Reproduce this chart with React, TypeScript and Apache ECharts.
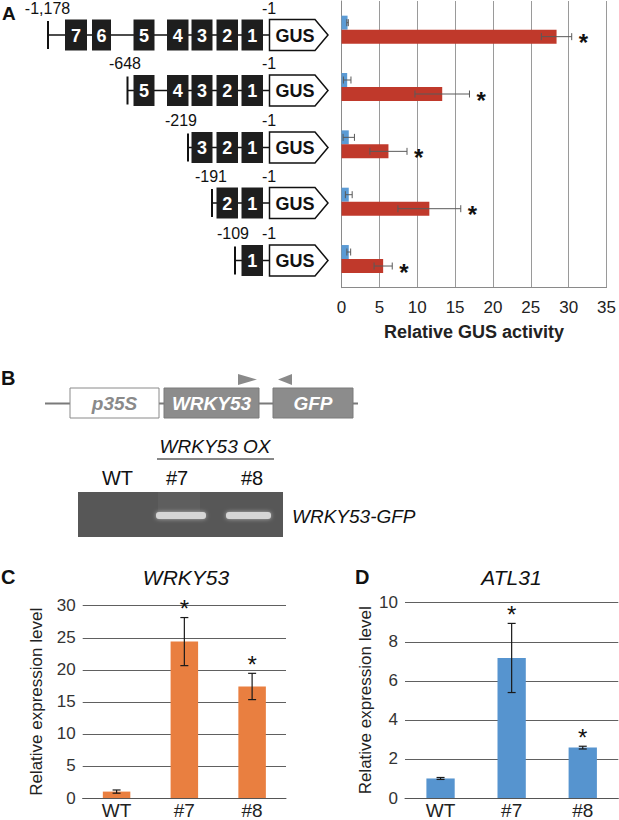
import React, { useEffect, useRef } from "react";
import * as echarts from "echarts";

const FONT = "'Liberation Sans', Arial, Helvetica, sans-serif";

// ---------- Panel A data ----------
const constructStarts = ["-1,178", "-648", "-219", "-191", "-109"];
const constructBoxes = [
  [7, 6, 5, 4, 3, 2, 1],
  [5, 4, 3, 2, 1],
  [3, 2, 1],
  [2, 1],
  [1],
];
const constructCats = ["c1178", "c648", "c219", "c191", "c109"];
const gusCtrl = [0.8, 0.75, 0.96, 0.96, 0.96];
const gusCtrlErr = [0.1, 0.5, 0.75, 0.45, 0.25];
const gusTreat = [28.4, 13.3, 6.2, 11.6, 5.5];
const gusTreatErr = [2.0, 3.6, 2.45, 4.15, 1.2];
const gusSig = [true, true, true, true, true];

// ---------- Panel C / D data ----------
const lines = ["WT", "#7", "#8"];
const wrkyVals = [1.0, 24.4, 17.4];
const wrkyErr = [0.25, 3.75, 2.05];
const wrkySig = [false, true, true];
const atlVals = [1.0, 7.17, 2.58];
const atlErr = [0.05, 1.77, 0.07];
const atlSig = [false, true, true];

// ---------- layout (positions only) ----------
const rowY = [35, 90.5, 147.5, 203, 260.5];
const startX = [48, 127.5, 188, 212, 235];
const labelX = [47.5, 125, 181, 211, 233];
const boxX: Record<number, number> = { 7: 65, 6: 92, 5: 133.5, 4: 167, 3: 191.5, 2: 216.5, 1: 241.5 };
const boxW: Record<number, number> = { 7: 22, 6: 19, 5: 21, 4: 21.5, 3: 21, 2: 21.5, 1: 21.5 };

function txt(text: string, x: number, y: number, font: string, fill = "#111", align = "center", valign = "middle") {
  return {
    type: "text",
    silent: true,
    style: {
      text, x, y, font, fill,
      align, verticalAlign: valign,
      textAlign: align, textVerticalAlign: valign,
    },
  };
}

function buildGraphics() {
  const g: any[] = [];
  // panel letters
  g.push(txt("A", 2, 13, `bold 19px ${FONT}`, "#111", "left"));
  g.push(txt("B", 1, 378, `bold 20px ${FONT}`, "#111", "left"));
  g.push(txt("C", 1, 577, `bold 20px ${FONT}`, "#111", "left"));
  g.push(txt("D", 355, 577, `bold 20px ${FONT}`, "#111", "left"));

  // Panel A constructs
  constructStarts.forEach((lab, i) => {
    const cy = rowY[i];
    g.push({ type: "line", shape: { x1: startX[i], y1: cy, x2: 270, y2: cy }, style: { stroke: "#111", lineWidth: 1.5 } });
    g.push({ type: "line", shape: { x1: startX[i], y1: cy - 14, x2: startX[i], y2: cy + 14 }, style: { stroke: "#111", lineWidth: 2 } });
    constructBoxes[i].forEach((b) => {
      g.push({ type: "rect", shape: { x: boxX[b], y: cy - 15.5, width: boxW[b], height: 31 }, style: { fill: "#1e1e1e" } });
      g.push(txt(String(b), boxX[b] + boxW[b] / 2, cy + 0.5, `bold 18px ${FONT}`, "#fff"));
    });
    g.push({
      type: "polygon",
      shape: { points: [[269.5, cy - 15.5], [315, cy - 15.5], [328, cy], [315, cy + 15.5], [269.5, cy + 15.5]] },
      style: { fill: "#fff", stroke: "#111", lineWidth: 1.5 },
    });
    g.push(txt("GUS", 295, cy + 0.5, `bold 18px ${FONT}`, "#111"));
    g.push(txt(lab, labelX[i], cy - 27, `16px ${FONT}`, "#111"));
    g.push(txt("-1", 269, cy - 27, `16px ${FONT}`, "#111"));
  });

  // Panel B construct
  g.push({ type: "line", shape: { x1: 45, y1: 403.5, x2: 358, y2: 403.5 }, style: { stroke: "#7a7a7a", lineWidth: 2 } });
  g.push({ type: "rect", shape: { x: 70, y: 388, width: 89, height: 30 }, style: { fill: "#fff", stroke: "#8a8a8a", lineWidth: 1 } });
  g.push(txt("p35S", 114.5, 403.5, `italic bold 19px ${FONT}`, "#8a8a8a"));
  g.push({ type: "rect", shape: { x: 164, y: 388, width: 95, height: 30 }, style: { fill: "#8c8c8c", stroke: "#7a7a7a", lineWidth: 1 } });
  g.push(txt("WRKY53", 211.5, 403.5, `italic bold 19px ${FONT}`, "#fff"));
  g.push({ type: "rect", shape: { x: 273, y: 388, width: 80, height: 30 }, style: { fill: "#8c8c8c", stroke: "#7a7a7a", lineWidth: 1 } });
  g.push(txt("GFP", 313, 403.5, `italic bold 19px ${FONT}`, "#fff"));
  g.push({ type: "polygon", shape: { points: [[238, 374], [257, 379.5], [238, 385]] }, style: { fill: "#8a8a8a" } });
  g.push({ type: "polygon", shape: { points: [[292, 374], [278, 379.5], [292, 385]] }, style: { fill: "#8a8a8a" } });

  g.push(txt("WRKY53 OX", 215, 446, `italic 19px ${FONT}`, "#111"));
  g.push({ type: "line", shape: { x1: 157, y1: 459, x2: 274, y2: 459 }, style: { stroke: "#111", lineWidth: 1 } });
  g.push(txt("WT", 117.5, 478, `20px ${FONT}`, "#111"));
  g.push(txt("#7", 177, 478, `20px ${FONT}`, "#111"));
  g.push(txt("#8", 252, 478, `20px ${FONT}`, "#111"));

  // gel
  g.push({ type: "rect", shape: { x: 78, y: 492, width: 205, height: 45 }, style: { fill: "#575757" } });
  g.push({ type: "rect", shape: { x: 158, y: 492, width: 42, height: 20 }, style: { fill: "#5e5e5e" } });
  g.push({ type: "rect", shape: { x: 156, y: 512, width: 50, height: 7, r: 3 }, style: { fill: "#d6d6d6", shadowBlur: 4, shadowColor: "rgba(200,200,200,0.8)" } });
  g.push({ type: "rect", shape: { x: 226, y: 512, width: 45, height: 7, r: 3 }, style: { fill: "#d6d6d6", shadowBlur: 4, shadowColor: "rgba(200,200,200,0.8)" } });
  g.push(txt("WRKY53-GFP", 292, 516, `italic 19px ${FONT}`, "#111", "left"));

  // titles C, D
  g.push(txt("WRKY53", 186, 577, `italic 21px ${FONT}`, "#111"));
  g.push(txt("ATL31", 511.5, 577, `italic 21px ${FONT}`, "#111"));
  return g;
}

function hErrSeries(vals: number[], errs: number[], sig: boolean[] | null, dy: number, name: string) {
  return {
    type: "custom",
    name,
    xAxisIndex: 0,
    yAxisIndex: 0,
    z: 5,
    silent: true,
    encode: { x: 0, y: 1 },
    data: vals.map((v, i) => [v, i, errs[i], sig && sig[i] ? 1 : 0]),
    renderItem: (params: any, api: any) => {
      const v = api.value(0);
      const c = api.value(1);
      const e = api.value(2);
      const s = api.value(3);
      const lo = api.coord([v - e, c]);
      const hi = api.coord([v + e, c]);
      const y = lo[1] + dy;
      const st = { stroke: "#5a5a5a", lineWidth: 1 };
      const children: any[] = [
        { type: "line", shape: { x1: lo[0], y1: y, x2: hi[0], y2: y }, style: st },
        { type: "line", shape: { x1: lo[0], y1: y - 3.5, x2: lo[0], y2: y + 3.5 }, style: st },
        { type: "line", shape: { x1: hi[0], y1: y - 3.5, x2: hi[0], y2: y + 3.5 }, style: st },
      ];
      if (s) {
        children.push({
          type: "text",
          style: {
            text: "*", x: hi[0] + 7, y: y + 6, font: `bold 24px ${FONT}`, fill: "#111",
            align: "left", verticalAlign: "middle", textAlign: "left", textVerticalAlign: "middle",
          },
        });
      }
      return { type: "group", children };
    },
  };
}

function vErrSeries(vals: number[], errs: number[], sig: boolean[], gi: number) {
  return {
    type: "custom",
    xAxisIndex: gi,
    yAxisIndex: gi,
    z: 5,
    silent: true,
    encode: { x: 0, y: 1 },
    data: vals.map((v, i) => [i, v, errs[i], sig[i] ? 1 : 0]),
    renderItem: (params: any, api: any) => {
      const c = api.value(0);
      const v = api.value(1);
      const e = api.value(2);
      const s = api.value(3);
      const lo = api.coord([c, v - e]);
      const hi = api.coord([c, v + e]);
      const x = lo[0];
      const st = { stroke: "#1a1a1a", lineWidth: 1.2 };
      const children: any[] = [
        { type: "line", shape: { x1: x, y1: lo[1], x2: x, y2: hi[1] }, style: st },
        { type: "line", shape: { x1: x - 4, y1: lo[1], x2: x + 4, y2: lo[1] }, style: st },
        { type: "line", shape: { x1: x - 4, y1: hi[1], x2: x + 4, y2: hi[1] }, style: st },
      ];
      if (s) {
        children.push({
          type: "text",
          style: {
            text: "*", x, y: hi[1] - 9, font: `24px ${FONT}`, fill: "#111",
            align: "center", verticalAlign: "middle", textAlign: "center", textVerticalAlign: "middle",
          },
        });
      }
      return { type: "group", children };
    },
  };
}

export default function App() {
  const ref = useRef<HTMLDivElement>(null);
  useEffect(() => {
    if (!ref.current) return;
    const chart = echarts.init(ref.current, null, { renderer: "svg" });
    const valueAxisCommon = {
      type: "value",
      axisTick: { show: false },
      axisLabel: { fontFamily: FONT, fontSize: 17, color: "#333", margin: 7 },
      splitLine: { lineStyle: { color: "#606060", width: 1 } },
      axisLine: { show: false },
      nameLocation: "middle",
      nameRotate: 90,
      nameTextStyle: { fontFamily: FONT, fontSize: 17, color: "#222" },
    };
    const catAxisCommon = {
      type: "category",
      data: lines,
      axisTick: { show: false },
      axisLine: { lineStyle: { color: "#555", width: 1 } },
      axisLabel: { fontFamily: FONT, fontSize: 19, color: "#222", margin: 3 },
    };
    const option: any = {
      animation: false,
      backgroundColor: "#fff",
      textStyle: { fontFamily: FONT },
      graphic: buildGraphics(),
      grid: [
        { left: 341.5, top: 1, width: 266.8, height: 286.7 },
        { left: 82.7, top: 605.7, width: 203.3, height: 192.6 },
        { left: 405, top: 602.7, width: 213.3, height: 196.3 },
      ],
      xAxis: [
        {
          gridIndex: 0,
          type: "value",
          min: 0,
          max: 35,
          interval: 5,
          axisLine: { show: true, lineStyle: { color: "#8a8a8a" } },
          axisTick: { show: false },
          splitLine: { show: true, lineStyle: { color: "#9a9a9a", width: 1 } },
          axisLabel: { fontFamily: FONT, fontSize: 17, color: "#222", margin: 11 },
          name: "Relative GUS activity",
          nameLocation: "middle",
          nameGap: 35,
          nameTextStyle: { fontFamily: FONT, fontSize: 18, fontWeight: "bold", color: "#222" },
        },
        { ...catAxisCommon, gridIndex: 1 },
        { ...catAxisCommon, gridIndex: 2 },
      ],
      yAxis: [
        {
          gridIndex: 0,
          type: "category",
          inverse: true,
          data: constructCats,
          axisLine: { show: true, lineStyle: { color: "#8a8a8a" } },
          axisTick: { show: false },
          axisLabel: { show: false },
        },
        {
          ...valueAxisCommon,
          gridIndex: 1,
          min: 0,
          max: 30,
          interval: 5,
          name: "Relative expression level",
          nameGap: 38,
        },
        {
          ...valueAxisCommon,
          gridIndex: 2,
          min: 0,
          max: 10,
          interval: 2,
          name: "Relative expression level",
          nameGap: 31,
        },
      ],
      series: [
        {
          type: "bar",
          name: "control",
          xAxisIndex: 0,
          yAxisIndex: 0,
          data: gusCtrl,
          barWidth: 14,
          barGap: "0%",
          itemStyle: { color: "#5b9bd5" },
          silent: true,
        },
        {
          type: "bar",
          name: "treated",
          xAxisIndex: 0,
          yAxisIndex: 0,
          data: gusTreat,
          barWidth: 14,
          barGap: "0%",
          itemStyle: { color: "#c0392b" },
          silent: true,
        },
        hErrSeries(gusCtrl, gusCtrlErr, null, -7, "ctrlErr"),
        hErrSeries(gusTreat, gusTreatErr, gusSig, 7, "treatErr"),
        {
          type: "bar",
          xAxisIndex: 1,
          yAxisIndex: 1,
          data: wrkyVals,
          barWidth: 27.5,
          itemStyle: { color: "#e97f40" },
          silent: true,
        },
        vErrSeries(wrkyVals, wrkyErr, wrkySig, 1),
        {
          type: "bar",
          xAxisIndex: 2,
          yAxisIndex: 2,
          data: atlVals,
          barWidth: 28.3,
          itemStyle: { color: "#5694cf" },
          silent: true,
        },
        vErrSeries(atlVals, atlErr, atlSig, 2),
      ],
    };
    chart.setOption(option);
    return () => chart.dispose();
  }, []);
  return (
    <div
      ref={ref}
      style={{ position: "absolute", left: 0, top: 0, width: 619, height: 820, background: "#fff" }}
    />
  );
}
